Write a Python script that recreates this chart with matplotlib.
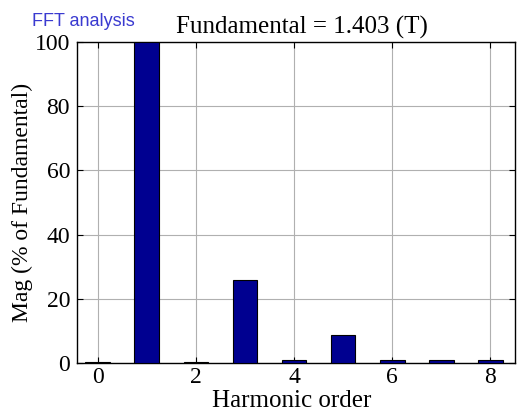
import matplotlib
matplotlib.use('Agg')
import matplotlib.pyplot as plt

# harmonic spectrum, magnitudes in % of fundamental
orders = [0, 1, 2, 3, 4, 5, 6, 7, 8]
magnitudes = [0.4, 100, 0.4, 25.8, 1.0, 8.8, 1.0, 1.0, 1.0]
xticks = [0, 2, 4, 6, 8]
yticks = [0, 20, 40, 60, 80, 100]
fundamental = 1.403

serif = 'Liberation Serif'

fig = plt.figure(figsize=(5.17, 4.12), dpi=100)
ax = fig.add_axes([77 / 517, 1 - 363 / 412, 438 / 517, 321 / 412])

ax.bar(orders, magnitudes, width=0.5, color='#000090', edgecolor='black', linewidth=0.8, zorder=3)

ax.set_xlim(-0.42, 8.5)
ax.set_ylim(0, 100)
ax.set_xticks(xticks)
ax.set_yticks(yticks)
ax.grid(True, color='#b0b0b0', linewidth=0.8, zorder=0)
ax.tick_params(direction='in', length=4, labelsize=17, top=True, right=True)
ax.tick_params(axis='y', pad=5)
ax.tick_params(axis='x', pad=3)
for lbl in ax.get_xticklabels() + ax.get_yticklabels():
    lbl.set_fontfamily(serif)
for s in ax.spines.values():
    s.set_linewidth(1.0)

ax.set_xlabel('Harmonic order', fontsize=18, fontfamily=serif, va='baseline')
ax.xaxis.set_label_coords(0.49, -0.136)
ax.set_ylabel('Mag (% of Fundamental)', fontsize=17, fontfamily=serif)
ax.yaxis.set_label_coords(-0.1, 0.5)
ax.set_title('Fundamental = %.3f (T)' % fundamental, fontsize=18, fontfamily=serif, pad=6, x=0.513)

fig.text(32 / 517, 1 - 21 / 412, 'FFT analysis', fontsize=13, fontfamily='Liberation Sans',
         color='#3a3ad0', va='center', ha='left')

fig.savefig('out.png', dpi=100)
